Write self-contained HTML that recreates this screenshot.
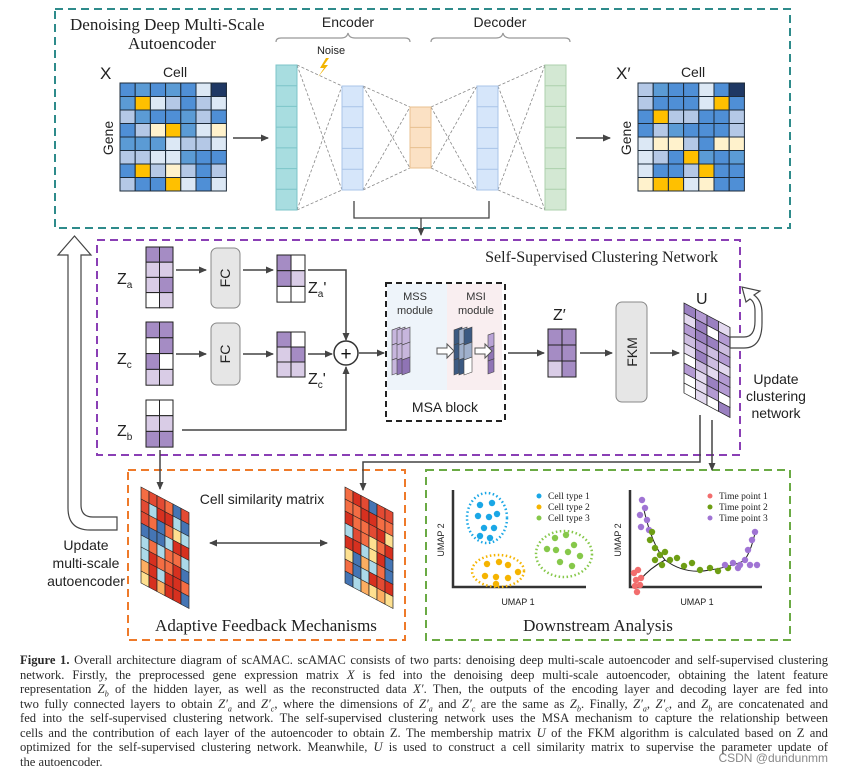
<!DOCTYPE html>
<html><head><meta charset="utf-8"><style>
html,body{margin:0;padding:0;background:#fff;}
body{width:843px;height:776px;position:relative;overflow:hidden;}
svg{position:absolute;left:0;top:0;}
.cap{position:absolute;left:20px;width:808px;font-family:"Liberation Serif",serif;font-size:12.6px;color:#2a2a2a;white-space:nowrap;text-align:justify;text-align-last:justify;line-height:14px;}
.cap i{font-style:italic}
</style></head><body>
<svg id="s" width="843" height="776" viewBox="0 0 843 776" font-family="Liberation Sans, sans-serif">
<defs>
<marker id="ah" markerWidth="8" markerHeight="8" refX="7" refY="4" orient="auto" markerUnits="userSpaceOnUse"><path d="M0,0.5 L8,4 L0,7.5 z" fill="#444"/></marker>
<marker id="ahs" markerWidth="8" markerHeight="8" refX="1" refY="4" orient="auto" markerUnits="userSpaceOnUse"><path d="M8,0.5 L0,4 L8,7.5 z" fill="#444"/></marker>
</defs>
<rect x="55" y="9" width="735" height="219" fill="none" stroke="#2e8b8b" stroke-width="2" stroke-dasharray="8,5"/>
<rect x="97" y="240" width="643" height="215" fill="none" stroke="#8a3fb5" stroke-width="2" stroke-dasharray="8,5"/>
<rect x="128" y="470" width="277" height="170" fill="none" stroke="#ee7a2a" stroke-width="2" stroke-dasharray="8,5"/>
<rect x="426" y="470" width="364" height="170" fill="none" stroke="#6aaa44" stroke-width="2" stroke-dasharray="8,5"/>

<g font-family="Liberation Serif, serif" fill="#222">
<text x="70" y="30" font-size="17">Denoising Deep Multi-Scale</text>
<text x="128" y="49" font-size="17">Autoencoder</text>
<text x="718" y="262" font-size="16" text-anchor="end">Self-Supervised Clustering Network</text>
<text x="266" y="631" font-size="17" text-anchor="middle">Adaptive Feedback Mechanisms</text>
<text x="598" y="631" font-size="17" text-anchor="middle">Downstream Analysis</text>
</g>
<g fill="#222" font-size="14">
<text x="348" y="27" text-anchor="middle">Encoder</text>
<text x="500" y="27" text-anchor="middle">Decoder</text>
<text x="331" y="54" font-size="11" text-anchor="middle">Noise</text>
<text x="100" y="79" font-size="17">X</text>
<text x="175" y="77" text-anchor="middle">Cell</text>
<text x="616" y="79" font-size="17">X′</text>
<text x="693" y="77" text-anchor="middle">Cell</text>
<text transform="translate(113,138) rotate(-90)" text-anchor="middle">Gene</text>
<text transform="translate(631,138) rotate(-90)" text-anchor="middle">Gene</text>
</g>
<path d="M276,42 q0,-4 5,-4 h60 q6,0 7,-5 q1,5 7,5 h50 q5,0 5,4" fill="none" stroke="#999" stroke-width="1.2"/>
<path d="M431,42 q0,-4 5,-4 h60 q6,0 7,-5 q1,5 7,5 h55 q5,0 5,4" fill="none" stroke="#999" stroke-width="1.2"/>
<path d="M326,58 l-6,10 h4 l-6,9 l10,-12 h-4 l5,-7z" fill="#f2b400"/>
<line x1="233" y1="138" x2="268" y2="138" stroke="#444" stroke-width="1.5" marker-end="url(#ah)"/>
<line x1="576" y1="138" x2="610" y2="138" stroke="#444" stroke-width="1.5" marker-end="url(#ah)"/>
<path d="M354,201 v17 h135 v-17 M421,218 v17" fill="none" stroke="#444" stroke-width="1.3" marker-end="url(#ah)"/>
<g id="ae"></g>
<g id="mats"></g>

<g font-size="16" fill="#222">
<text x="117" y="284">Z<tspan font-size="10" dy="4">a</tspan></text>
<text x="117" y="364">Z<tspan font-size="10" dy="4">c</tspan></text>
<text x="117" y="436">Z<tspan font-size="10" dy="4">b</tspan></text>
<text x="308" y="293">Z<tspan font-size="10" dy="4">a</tspan><tspan dy="-4">'</tspan></text>
<text x="308" y="384">Z<tspan font-size="10" dy="4">c</tspan><tspan dy="-4">'</tspan></text>
<text x="553" y="320">Z′</text>
<text x="696" y="304">U</text>
</g>
<rect x="211" y="248" width="29" height="60" rx="6" fill="#e6e6e6" stroke="#888"/>
<rect x="211" y="323" width="29" height="62" rx="6" fill="#e6e6e6" stroke="#888"/>
<rect x="616" y="302" width="31" height="100" rx="6" fill="#e6e6e6" stroke="#888"/>
<text transform="translate(230,278) rotate(-90)" text-anchor="middle" font-size="14" fill="#222">FC</text>
<text transform="translate(230,354) rotate(-90)" text-anchor="middle" font-size="14" fill="#222">FC</text>
<text transform="translate(637,352) rotate(-90)" text-anchor="middle" font-size="14" fill="#222">FKM</text>
<g stroke="#444" stroke-width="1.5" fill="none">
<line x1="176" y1="270" x2="206" y2="270" marker-end="url(#ah)"/>
<line x1="243" y1="270" x2="273" y2="270" marker-end="url(#ah)"/>
<line x1="176" y1="354" x2="206" y2="354" marker-end="url(#ah)"/>
<line x1="243" y1="354" x2="273" y2="354" marker-end="url(#ah)"/>
<line x1="308" y1="354" x2="332" y2="354" marker-end="url(#ah)"/>
<path d="M308,270 H346 V340" marker-end="url(#ah)"/>
<path d="M182,430 H346 V367" marker-end="url(#ah)"/>
<line x1="359" y1="353" x2="384" y2="353" marker-end="url(#ah)"/>
<line x1="508" y1="353" x2="544" y2="353" marker-end="url(#ah)"/>
<line x1="580" y1="353" x2="612" y2="353" marker-end="url(#ah)"/>
<line x1="650" y1="353" x2="679" y2="353" marker-end="url(#ah)"/>
<path d="M160,450 V489" marker-end="url(#ah)"/>
<path d="M700,415 V462 H363 V490" marker-end="url(#ah)"/>
<path d="M712,420 V470" marker-end="url(#ah)"/>
<line x1="210" y1="543" x2="327" y2="543" marker-start="url(#ahs)" marker-end="url(#ah)"/>
</g>
<circle cx="346" cy="353" r="12" fill="#fff" stroke="#333" stroke-width="1.5"/>
<text x="346" y="360" text-anchor="middle" font-size="19" fill="#111">+</text>
<rect x="387" y="284" width="60" height="106" fill="#eef4fa"/>
<rect x="447" y="284" width="55" height="106" fill="#f9eef0"/>
<rect x="386" y="283" width="119" height="138" fill="none" stroke="#222" stroke-width="2" stroke-dasharray="6,4"/>
<g font-size="11" fill="#333" text-anchor="middle">
<text x="415" y="300">MSS</text><text x="415" y="314">module</text>
<text x="476" y="300">MSI</text><text x="476" y="314">module</text>
</g>
<text x="445" y="412" text-anchor="middle" font-size="14" fill="#222">MSA block</text>
<g id="msa"></g>
<path d="M437,348 h10 v-4 l7,7 l-7,7 v-4 h-10z" fill="#fff" stroke="#555"/>
<path d="M475,348 h10 v-4 l7,7 l-7,7 v-4 h-10z" fill="#fff" stroke="#555"/>
<path d="M730,348 h14 q18,0 18,-25 v-10 q0,-12 -8,-18 l6,-4 l-18,-4 l4,15 l4,-3 q5,3 5,12 v10 q0,16 -11,16 h-14z" fill="#fff" stroke="#444" stroke-width="1.2"/>
<g font-size="14" fill="#222" text-anchor="middle">
<text x="776" y="384">Update</text><text x="776" y="401">clustering</text><text x="776" y="418">network</text>
<text x="86" y="550">Update</text><text x="86" y="568">multi-scale</text><text x="86" y="586">autoencoder</text>
<text x="262" y="504">Cell similarity matrix</text>
</g>
<path d="M81,255 V505 q0,12 12,12 H117 V530 H90 q-22,0 -22,-22 V255 H58 L74.5,236 L91,255z" fill="#fff" stroke="#444" stroke-width="1.2"/>
<g stroke="#333" stroke-width="2.5" fill="none">
<path d="M453,490 V587 H586"/>
<path d="M630,490 V587 H762"/>
</g>
<g font-size="9" fill="#222" text-anchor="middle">
<text x="518" y="605">UMAP 1</text><text x="697" y="605">UMAP 1</text>
<text transform="translate(444,540) rotate(-90)">UMAP 2</text>
<text transform="translate(621,540) rotate(-90)">UMAP 2</text>
</g>
<g fill="none" stroke-width="2.5" stroke-dasharray="1.5,2.5">
<ellipse cx="487" cy="518" rx="20" ry="25" stroke="#1aa7e6"/>
<ellipse cx="498" cy="571" rx="26" ry="16" stroke="#f5b400"/>
<ellipse cx="564" cy="554" rx="28" ry="23" stroke="#86c84a"/>
</g>
<g font-family="Liberation Serif, serif" font-size="9.5" fill="#222">
<text x="548" y="499">Cell type 1</text><text x="548" y="510">Cell type 2</text><text x="548" y="521">Cell type 3</text>
<text x="719" y="499">Time point 1</text><text x="719" y="510">Time point 2</text><text x="719" y="521">Time point 3</text>
</g>
<circle cx="539" cy="496" r="2.5" fill="#1aa7e6"/><circle cx="539" cy="507" r="2.5" fill="#f5b400"/><circle cx="539" cy="518" r="2.5" fill="#86c84a"/>
<circle cx="710" cy="496" r="2.5" fill="#f26d6d"/><circle cx="710" cy="507" r="2.5" fill="#6e9e14"/><circle cx="710" cy="518" r="2.5" fill="#a074d4"/>
<path d="M644,510 Q652,545 665,560 Q685,575 710,570 Q735,566 745,560 Q752,548 755,533" fill="none" stroke="#222" stroke-width="1"/>
<path d="M665,560 Q650,568 640,580" fill="none" stroke="#222" stroke-width="1"/>
<g id="dots"></g>
<g id="sim"></g>
<text x="828" y="762" text-anchor="end" font-size="12" fill="#888">CSDN @dundunmm</text>
</svg>
<div class="cap" style="top:653px"><b>Figure 1.</b> Overall architecture diagram of scAMAC. scAMAC consists of two parts: denoising deep multi-scale autoencoder and self-supervised clustering</div>
<div class="cap" style="top:667.5px">network. Firstly, the preprocessed gene expression matrix <i>X</i> is fed into the denoising deep multi-scale autoencoder, obtaining the latent feature</div>
<div class="cap" style="top:682px">representation <i>Z<sub style="font-size:8px">b</sub></i> of the hidden layer, as well as the reconstructed data <i>X′</i>. Then, the outputs of the encoding layer and decoding layer are fed into</div>
<div class="cap" style="top:696.5px">two fully connected layers to obtain <i>Z′<sub style="font-size:8px">a</sub></i> and <i>Z′<sub style="font-size:8px">c</sub></i>, where the dimensions of <i>Z′<sub style="font-size:8px">a</sub></i> and <i>Z′<sub style="font-size:8px">c</sub></i> are the same as <i>Z<sub style="font-size:8px">b</sub></i>. Finally, <i>Z′<sub style="font-size:8px">a</sub></i>, <i>Z′<sub style="font-size:8px">c</sub></i>, and <i>Z<sub style="font-size:8px">b</sub></i> are concatenated and</div>
<div class="cap" style="top:711px">fed into the self-supervised clustering network. The self-supervised clustering network uses the MSA mechanism to capture the relationship between</div>
<div class="cap" style="top:725.5px">cells and the contribution of each layer of the autoencoder to obtain Z. The membership matrix <i>U</i> of the FKM algorithm is calculated based on Z and</div>
<div class="cap" style="top:740px">optimized for the self-supervised clustering network. Meanwhile, <i>U</i> is used to construct a cell similarity matrix to supervise the parameter update of</div>
<div class="cap" style="top:754.5px;text-align-last:left;width:auto">the autoencoder.</div>
<script>
var NS="http://www.w3.org/2000/svg";
function el(p,t,a){var e=document.createElementNS(NS,t);for(var k in a)e.setAttribute(k,a[k]);p.appendChild(e);return e;}
var seed=7;function rnd(){seed=(seed*16807)%2147483647;return seed/2147483647;}
function pick(a){return a[Math.floor(rnd()*a.length)];}
var G=function(id){return document.getElementById(id);};
var bl=["#4f8fd6","#4f8fd6","#5b9bd5","#b4c8e6","#dce8f5","#4f8fd6","#b4c8e6"];
function gm(x,y){var g=G("mats");for(var r=0;r<8;r++)for(var c=0;c<7;c++){var f=pick(bl);var v=rnd();if(v<0.13)f="#ffc000";else if(v<0.2)f="#fff2cc";el(g,"rect",{x:x+c*15.2,y:y+r*13.5,width:15.2,height:13.5,fill:f,stroke:"#1d2b3a","stroke-width":1});}
el(g,"rect",{x:x+6*15.2,y:y,width:15.2,height:13.5,fill:"#1f3864",stroke:"#1d2b3a"});}
gm(120,83);gm(638,83);
var ae=G("ae");
var L=[[276,65,21,145,"#a8dde0","#7cc4c8",7],[342,86,21,104,"#d6e6fa","#a9c4e8",5],[410,107,21,61,"#fbe1c4","#e8c08f",3],[477,86,21,104,"#d6e6fa","#a9c4e8",5],[545,65,21,145,"#d3e8d3","#acd0ac",7]];
for(var i=0;i<4;i++){var a=L[i],b=L[i+1];var pts=[[a[0]+a[2],a[1],b[0],b[1]],[a[0]+a[2],a[1],b[0],b[1]+b[3]],[a[0]+a[2],a[1]+a[3],b[0],b[1]],[a[0]+a[2],a[1]+a[3],b[0],b[1]+b[3]]];pts.forEach(function(p){el(ae,"line",{x1:p[0],y1:p[1],x2:p[2],y2:p[3],stroke:"#888","stroke-width":0.8,"stroke-dasharray":"3,2"});});}
L.forEach(function(l){el(ae,"rect",{x:l[0],y:l[1],width:l[2],height:l[3],fill:l[4],stroke:l[5]});for(var k=1;k<l[6];k++)el(ae,"line",{x1:l[0],x2:l[0]+l[2],y1:l[1]+k*l[3]/l[6],y2:l[1]+k*l[3]/l[6],stroke:l[5]});});
var pu=["#fff","#d9cce6","#a58cc4","#d9cce6","#a58cc4"];
function pm(x,y,rows,w,h){var g=G("mats");for(var r=0;r<rows;r++)for(var c=0;c<2;c++)el(g,"rect",{x:x+c*w,y:y+r*h,width:w,height:h,fill:pick(pu),stroke:"#222","stroke-width":1});}
pm(146,247,4,13.5,15.2);pm(146,322,4,13.5,15.8);pm(146,400,3,13.5,15.7);
pm(277,255,3,14,15.7);pm(277,332,3,14,15);pm(548,329,3,14,16);
var m=G("msa");
[392,397,402].forEach(function(x){var gg=el(m,"g",{transform:"translate("+x+",330) skewY(-20)"});for(var r=0;r<3;r++)el(gg,"rect",{x:0,y:r*15,width:8,height:15,fill:pick(["#fff","#c7b6dd","#8f74b5"]),stroke:"#444","stroke-width":0.6});});
[454,459,464].forEach(function(x){var gg=el(m,"g",{transform:"translate("+x+",330) skewY(-20)"});for(var r=0;r<3;r++)el(gg,"rect",{x:0,y:r*15,width:8,height:15,fill:pick(["#fff","#9fb0cc","#3c5a82"]),stroke:"#444","stroke-width":0.6});});
var gg=el(m,"g",{transform:"translate(488,335) skewY(-20)"});for(var r=0;r<3;r++)el(gg,"rect",{x:0,y:r*13,width:6,height:13,fill:pick(["#fff","#b9a3d6","#8f74b5"]),stroke:"#444","stroke-width":0.6});
var u=el(G("mats"),"g",{transform:"translate(684,303) skewY(28)"});
for(var r=0;r<9;r++)for(var c=0;c<4;c++)el(u,"rect",{x:c*11.5,y:r*10,width:11.5,height:10,fill:pick(["#fff","#e3d9ef","#cdbde0","#9a80c0","#b39ad2"]),stroke:"#222","stroke-width":0.8});
var sc=["#d7301f","#e34a33","#f46d43","#fdae61","#fee090","#abd9e9","#4575b4","#d7301f","#f46d43"];
function sm(x){var g=el(G("sim"),"g",{transform:"translate("+x+",487) skewY(28)"});for(var r=0;r<8;r++)for(var c=0;c<6;c++)el(g,"rect",{x:c*8,y:r*12,width:8,height:12,fill:pick(sc),stroke:"#222","stroke-width":0.7});}
sm(141);sm(345);
var d=G("dots");
function dot(x,y,f){el(d,"circle",{cx:x,cy:y,r:3.2,fill:f});}
[[480,505],[492,503],[478,516],[489,517],[497,514],[484,528],[494,528],[480,536],[490,538]].forEach(function(p){dot(p[0],p[1],"#1aa7e6");});
[[487,564],[499,562],[508,565],[485,576],[496,577],[508,578],[518,572],[496,584]].forEach(function(p){dot(p[0],p[1],"#f5b400");});
[[555,538],[566,535],[574,545],[556,550],[568,552],[580,556],[560,562],[572,566],[547,549]].forEach(function(p){dot(p[0],p[1],"#86c84a");});
[[642,500],[645,508],[640,515],[647,520],[641,527],[649,530]].forEach(function(p){dot(p[0],p[1],"#a074d4");});
[[650,540],[655,548],[660,555],[665,552],[670,560],[677,558],[684,566],[692,563],[700,570],[710,568],[718,571],[728,568],[662,565],[655,560],[652,532]].forEach(function(p){dot(p[0],p[1],"#6e9e14");});
[[634,573],[638,570],[636,580],[641,578],[635,586],[640,585],[637,592]].forEach(function(p){dot(p[0],p[1],"#f26d6d");});
[[725,565],[733,563],[740,565],[745,560],[750,565],[748,550],[752,540],[755,532],[738,568],[757,565]].forEach(function(p){dot(p[0],p[1],"#a074d4");});
</script>
</body></html>
